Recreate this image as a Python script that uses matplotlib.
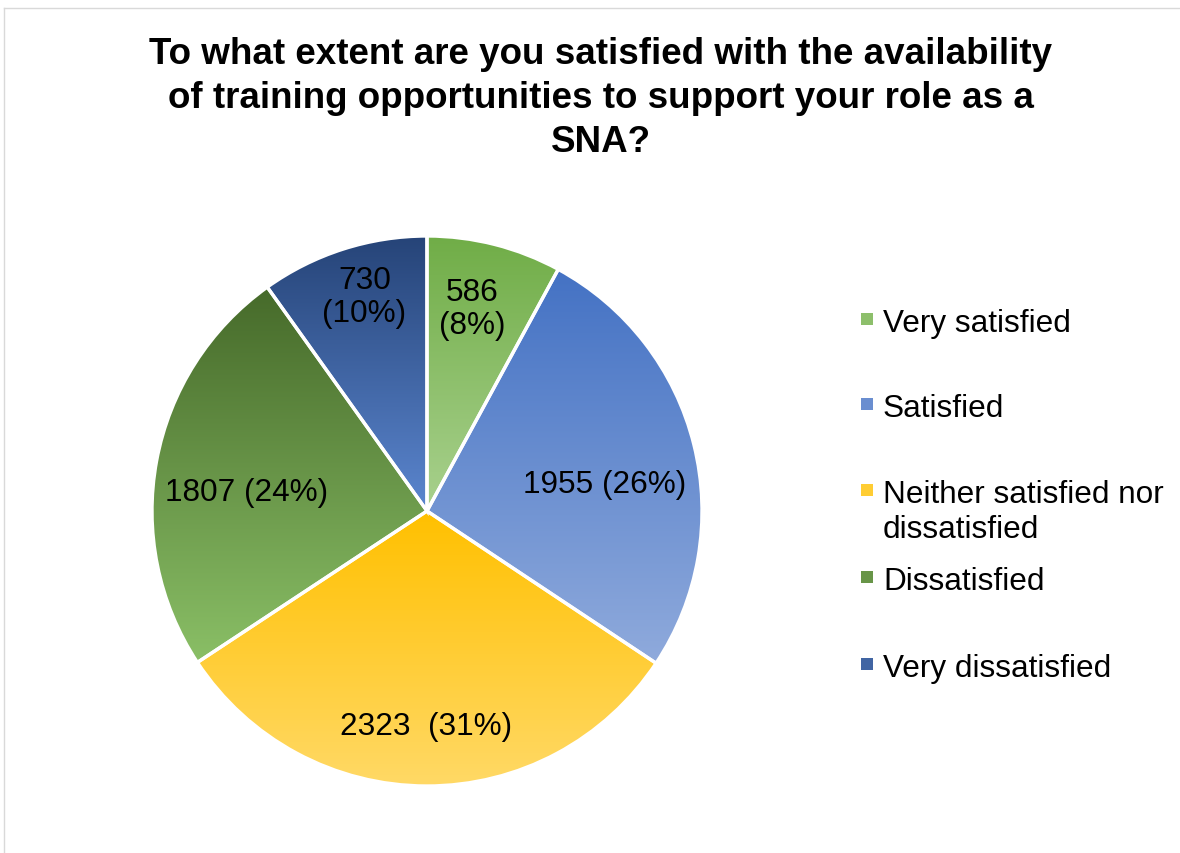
import numpy as np
import matplotlib
matplotlib.use("Agg")
import matplotlib.pyplot as plt
from matplotlib.colors import to_rgb
from matplotlib.patches import Rectangle
from matplotlib.lines import Line2D

# ---- data ----
categories = ["Very satisfied", "Satisfied", "Neither satisfied nor dissatisfied",
              "Dissatisfied", "Very dissatisfied"]
legend_labels = ["Very satisfied", "Satisfied", "Neither satisfied nor\ndissatisfied",
                 "Dissatisfied", "Very dissatisfied"]
counts = [586, 1955, 2323, 1807, 730]
label_fmt = ["{c}\n({p}%)", "{c} ({p}%)", "{c}  ({p}%)", "{c} ({p}%)", "{c}\n({p}%)"]
title_lines = ["To what extent are you satisfied with the availability",
               "of training opportunities to support your role as a",
               "SNA?"]

# ---- style ----
grad_top = ["#70AD47", "#4472C4", "#FFC000", "#466A2A", "#264478"]
grad_bot = ["#A9D18E", "#8FAADC", "#FFD966", "#8ABF66", "#5B86CF"]
label_r = [0.755, 0.655, 0.781, 0.660, 0.812]
label_dang = [1.8, -5.2, -0.2, 4.6, -1.5]

W, H = 1180, 854
plt.rcParams['font.family'] = ['Liberation Sans', 'DejaVu Sans']
fig = plt.figure(figsize=(W / 100, H / 100), dpi=100)
fig.patch.set_facecolor("white")

def fx(px): return px / W
def fy(py): return 1 - py / H

# border
fig.add_artist(Line2D([fx(4), fx(4)], [fy(9), -0.1], color="#D9D9D9", lw=1.0,
                      transform=fig.transFigure))
fig.add_artist(Line2D([fx(4), 1.1], [fy(9), fy(9)], color="#D9D9D9", lw=1.0,
                      transform=fig.transFigure))

# pie axes
cx, cy, R = 427, 512, 275
ax = fig.add_axes([fx(cx - R), fy(cy + R), 2 * R / W, 2 * R / H])
wedges, _ = ax.pie(counts, startangle=90, counterclock=False, radius=1,
                   wedgeprops=dict(edgecolor="white", linewidth=2.4))

total = sum(counts)
for i, w in enumerate(wedges):
    w.set_facecolor("none")
    w.set_zorder(3)
    path = w.get_path().transformed(w.get_patch_transform())
    ext = path.get_extents()
    top, bot = np.array(to_rgb(grad_top[i])), np.array(to_rgb(grad_bot[i]))
    t = np.linspace(0, 1, 256)[:, None]
    grad = (top[None, :] * (1 - t) + bot[None, :] * t)[:, None, :]
    im = ax.imshow(grad, extent=[ext.x0, ext.x1, ext.y0, ext.y1], origin="upper",
                   aspect="auto", interpolation="bilinear", zorder=1)
    im.set_clip_path(w)
    ang = np.deg2rad((w.theta1 + w.theta2) / 2 + label_dang[i])
    pct = round(100 * counts[i] / total)
    ax.text(label_r[i] * np.cos(ang), label_r[i] * np.sin(ang),
            label_fmt[i].format(c=counts[i], p=pct), ha="center", va="center",
            multialignment="center", fontsize=22.7, linespacing=1.14, zorder=5)

ax.set_xlim(-1, 1)
ax.set_ylim(-1, 1)
ax.set_aspect("equal")
ax.axis("off")

# title (one text per line, 44 px apart)
for k, line in enumerate(title_lines):
    fig.text(fx(601), fy(64 + 44 * k), line, ha="center", va="baseline",
             fontsize=26.5, fontweight="bold")

# legend
baselines = [332, 417, 503, 590, 677]
for i, lab in enumerate(legend_labels):
    mid = (np.array(to_rgb(grad_top[i])) + np.array(to_rgb(grad_bot[i]))) / 2
    b = baselines[i]
    fig.add_artist(Rectangle((fx(861), fy(b - 6)), 12 / W, 12 / H, facecolor=mid,
                             edgecolor="none", transform=fig.transFigure))
    for k, part in enumerate(lab.split("\n")):
        fig.text(fx(883), fy(b + 35 * k), part, ha="left", va="baseline",
                 fontsize=22.7)

fig.savefig("out.png", dpi=100)
